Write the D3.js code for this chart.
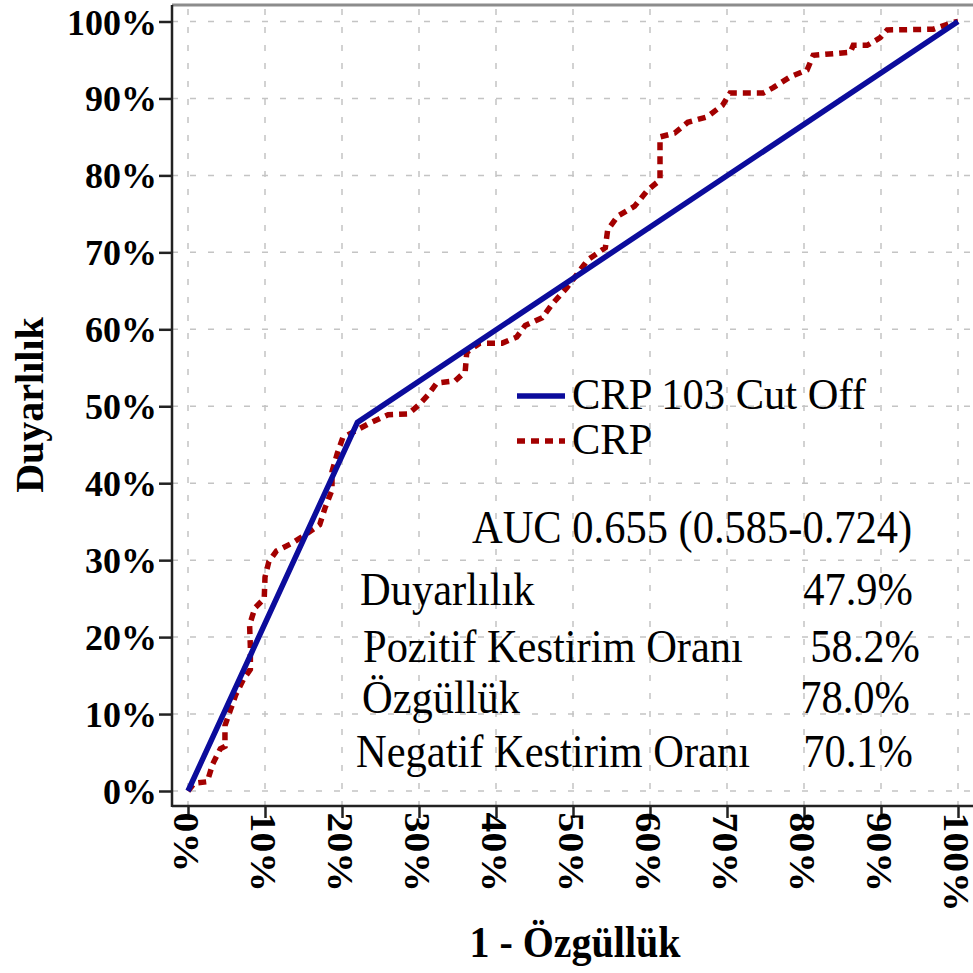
<!DOCTYPE html>
<html>
<head>
<meta charset="utf-8">
<script src="https://cdn.jsdelivr.net/npm/d3@7"></script>
<style>
  body { margin: 0; background: #fff; }
  text { font-family: "Liberation Serif", "Times New Roman", serif; fill: #000; }
  .tick text { font-weight: bold; font-size: 36px; }
</style>
</head>
<body>
<div class="chart"></div>
<script>
// ROC curve - CRP vs CRP 103 cut off

var tickValues = [0, 10, 20, 30, 40, 50, 60, 70, 80, 90, 100];

// cut off line (1 - specificity, sensitivity)
var cutFpr = [0, 22.0, 100];
var cutTpr = [0, 47.9, 100];

// CRP curve
var crpFpr = [0, 0.8, 2.5, 3.2, 4.2, 4.8, 4.8, 5.5, 6.2, 7.2, 8.1, 8.1, 8.0, 8.7, 9.9, 10.0, 10.5,
  11.5, 13.5, 15.2, 17.1, 17.8, 18.7, 18.7, 19.4, 20.1, 21.9, 23.6, 26.0, 28.6, 30.0, 31.2, 32.3,
  34.7, 36.0, 36.2, 37.9, 40.8, 42.7, 43.8, 46.0, 47.4, 49.2, 50.7, 51.9, 54.2, 54.5, 55.8, 58.0,
  59.7, 61.3, 61.3, 63.2, 64.9, 67.4, 69.4, 70.4, 74.7, 76.0, 78.2, 80.4, 81.2, 86.0, 86.4, 88.2,
  89.9, 90.8, 96.8, 99.4, 100];
var crpTpr = [0, 1.0, 1.2, 3.5, 5.5, 5.8, 8.5, 10.5, 12.5, 14.5, 15.8, 18.7, 21.6, 23.8, 25.0, 27.8, 29.8,
  31.2, 32.2, 33.3, 34.6, 36.8, 39.1, 41.5, 43.9, 45.9, 46.9, 47.8, 48.9, 49.0, 50.2, 51.5, 53.0,
  53.3, 54.5, 57.0, 58.2, 58.2, 59.0, 60.5, 61.5, 63.4, 65.4, 67.4, 69.0, 70.6, 72.9, 74.7, 76.0,
  78.1, 79.4, 85.0, 85.5, 86.9, 87.6, 89.1, 90.7, 90.7, 91.4, 92.8, 93.7, 95.6, 96.0, 96.9, 96.9,
  97.9, 98.9, 99.0, 99.9, 100];

var legendLabels = ["CRP 103 Cut Off", "CRP"];
var aucLabel = "AUC 0.655 (0.585-0.724)";
var statNames = ["Duyarlılık", "Pozitif Kestirim Oranı", "Özgüllük", "Negatif Kestirim Oranı"];
var statValues = ["47.9%", "58.2%", "78.0%", "70.1%"];

var svgWidth = 973;
var svgHeight = 973;

var blue = "#0c0c9c";
var red = "#a30000";

// the source picture was stretched a bit vertically, so the text is too
var stretch = 1.1;

var svg = d3.select(".chart")
  .append("svg")
  .attr("width", svgWidth)
  .attr("height", svgHeight);

svg.append("rect")
  .attr("width", svgWidth)
  .attr("height", svgHeight)
  .attr("fill", "#fff");

// scales
var xScale = d3.scaleLinear().domain([0, 100]).range([188, 958]);
var yScale = d3.scaleLinear().domain([0, 100]).range([791, 21.5]);

// frame edges
var frameLeft = 172;
var frameBottom = 806;
var frameTop = 5;

// Grid lines
var grid = svg.append("g").attr("class", "grid");

grid.selectAll(".hgrid")
  .data(tickValues)
  .enter().append("line")
  .attr("x1", frameLeft)
  .attr("x2", svgWidth)
  .attr("y1", function(d) { return yScale(d); })
  .attr("y2", function(d) { return yScale(d); })
  .attr("stroke", "#c4c4c4")
  .attr("stroke-width", 1.5)
  .attr("stroke-dasharray", "6,12");

grid.selectAll(".vgrid")
  .data(tickValues)
  .enter().append("line")
  .attr("x1", function(d) { return xScale(d); })
  .attr("x2", function(d) { return xScale(d); })
  .attr("y1", frameTop + 4)
  .attr("y2", frameBottom)
  .attr("stroke", "#c4c4c4")
  .attr("stroke-width", 1.5)
  .attr("stroke-dasharray", "6,12");

// top border
svg.append("line")
  .attr("x1", frameLeft).attr("x2", svgWidth)
  .attr("y1", frameTop).attr("y2", frameTop)
  .attr("stroke", "#8c8c8c")
  .attr("stroke-width", 3);

// Axes
var leftAxis = d3.axisLeft(yScale)
  .tickValues(tickValues)
  .tickFormat(function(d) { return d + "%"; })
  .tickSize(13)
  .tickPadding(2);

var bottomAxis = d3.axisBottom(xScale)
  .tickValues(tickValues)
  .tickFormat(function(d) { return d + "%"; })
  .tickSize(12)
  .tickPadding(4);

var yAxisG = svg.append("g")
  .attr("transform", "translate(" + frameLeft + ",0)")
  .call(leftAxis);
yAxisG.select(".domain").remove();
yAxisG.selectAll(".tick line").attr("stroke", "#222").attr("stroke-width", 2.5);
yAxisG.selectAll(".tick text")
  .attr("x", null)
  .attr("dy", null)
  .attr("transform", "translate(-15,12.5)");

var xAxisG = svg.append("g")
  .attr("transform", "translate(0," + frameBottom + ")")
  .call(bottomAxis);
xAxisG.select(".domain").remove();
xAxisG.selectAll(".tick line").attr("stroke", "#222").attr("stroke-width", 2.5);
xAxisG.selectAll(".tick text")
  .attr("transform", "translate(-3,0) rotate(90) scale(" + stretch + ",1)")
  .attr("text-anchor", "start")
  .attr("x", 6)
  .attr("y", 0)
  .attr("dy", "0.33em");

// axis lines
svg.append("line")
  .attr("x1", frameLeft).attr("x2", frameLeft)
  .attr("y1", frameTop).attr("y2", frameBottom + 1)
  .attr("stroke", "#222").attr("stroke-width", 2.5);
svg.append("line")
  .attr("x1", frameLeft).attr("x2", svgWidth)
  .attr("y1", frameBottom).attr("y2", frameBottom)
  .attr("stroke", "#222").attr("stroke-width", 2.5);

// Lines
var line = d3.line()
  .x(function(d) { return xScale(d[0]); })
  .y(function(d) { return yScale(d[1]); });

var crpData = crpFpr.map(function(v, i) { return [v, crpTpr[i]]; });
var cutData = cutFpr.map(function(v, i) { return [v, cutTpr[i]]; });

svg.append("path")
  .datum(crpData)
  .attr("d", line)
  .attr("fill", "none")
  .attr("stroke", red)
  .attr("stroke-width", 5.5)
  .attr("stroke-dasharray", "8,6");

svg.append("path")
  .datum(cutData)
  .attr("d", line)
  .attr("fill", "none")
  .attr("stroke", blue)
  .attr("stroke-width", 5.5);

// helper for the stretched serif text
function addText(x, y, str, anchor, k) {
  return svg.append("text")
    .attr("transform", "translate(" + x + "," + y + ") scale(1," + (k || stretch) + ")")
    .attr("text-anchor", anchor || "start")
    .attr("font-size", 42.5)
    .text(str);
}

// Legend
legendLabels.forEach(function(label, i) {
  var ly = 396 + i * 45;
  svg.append("line")
    .attr("x1", 517).attr("x2", 565)
    .attr("y1", ly).attr("y2", ly)
    .attr("stroke", i === 0 ? blue : red)
    .attr("stroke-width", 5.5)
    .attr("stroke-dasharray", i === 0 ? null : "8,6");
  addText(572, ly + 13, label, "start", 1.04);
});

// AUC and stats
addText(472, 543, aucLabel);

var rowY = [605, 662, 713, 767];
var nameX = [360, 363, 362, 356];
var valueEnd = [913, 920, 910, 913];

statNames.forEach(function(name, i) {
  addText(nameX[i], rowY[i], name);
  addText(valueEnd[i], rowY[i], statValues[i], "end");
});

// Axis titles
svg.append("text")
  .attr("transform", "translate(43,405) rotate(-90)")
  .attr("text-anchor", "middle")
  .attr("font-size", 40)
  .attr("font-weight", "bold")
  .text("Duyarlılık");

svg.append("text")
  .attr("transform", "translate(575,957) scale(1," + stretch + ")")
  .attr("text-anchor", "middle")
  .attr("font-size", 40)
  .attr("font-weight", "bold")
  .text("1 - Özgüllük");
</script>
</body>
</html>
